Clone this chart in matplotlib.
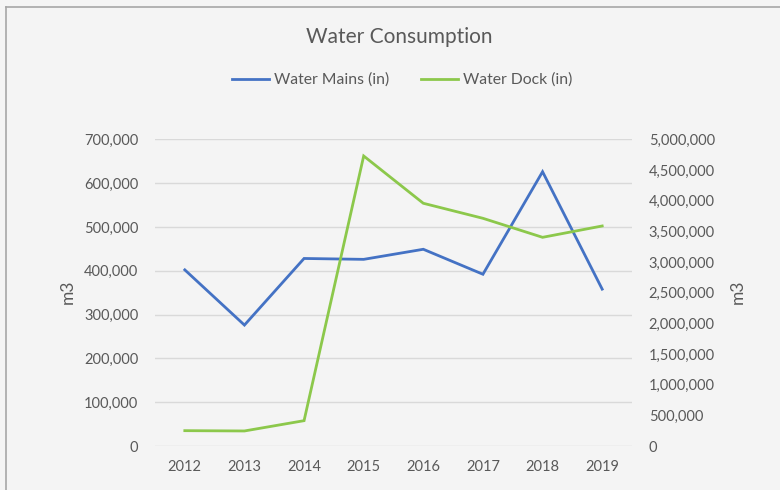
import matplotlib
matplotlib.use("Agg")
import matplotlib.pyplot as plt
from matplotlib.ticker import FuncFormatter, MultipleLocator
from matplotlib.lines import Line2D

years = ["2012", "2013", "2014", "2015", "2016", "2017", "2018", "2019"]
water_mains = [402000, 276000, 428000, 426000, 449000, 392000, 626000, 358000]
water_dock = [250000, 245000, 413000, 4728000, 3957000, 3712000, 3402000, 3587000]

plt.rcParams['font.family'] = ['Lato', 'DejaVu Sans']
bg = "#f4f4f4"
txt = "#595959"
blue = "#4472C4"
green = "#8CC84B"

fig = plt.figure(figsize=(7.8, 4.9), dpi=100, facecolor=bg)
ax = fig.add_axes([155/780, 1-446/490, (632-155)/780, (446-139.3)/490])
ax.set_facecolor(bg)
ax2 = ax.twinx()

x = list(range(len(years)))
ax.plot(x, water_mains, color=blue, lw=2.0, solid_joinstyle='miter')
ax2.plot(x, water_dock, color=green, lw=2.0, solid_joinstyle='miter')

ax.set_xlim(-0.5, len(years) - 0.5)
ax.set_ylim(0, 700000)
ax2.set_ylim(0, 5000000)
ax.yaxis.set_major_locator(MultipleLocator(100000))
ax2.yaxis.set_major_locator(MultipleLocator(500000))
fmt = FuncFormatter(lambda v, p: f"{int(round(v)):,}")
ax.yaxis.set_major_formatter(fmt)
ax2.yaxis.set_major_formatter(fmt)
ax.set_xticks(x)
ax.set_xticklabels(years)

ax.grid(axis='y', color="#d9d9d9", lw=1.0)
ax.set_axisbelow(True)
for a in (ax, ax2):
    for s in a.spines.values():
        s.set_visible(False)
    a.tick_params(length=0, labelsize=10.5, labelcolor=txt)
ax.tick_params(axis='y', pad=12)
ax2.tick_params(axis='y', pad=12)
ax.tick_params(axis='x', pad=10)

fig.text(68/780, 1-292/490, "m3", rotation=90, ha='center', va='center',
         color=txt, fontsize=12.5)
fig.text(738/780, 1-292/490, "m3", rotation=90, ha='center', va='center',
         color=txt, fontsize=12.5)

fig.text(399/780, 1-37/490, "Water Consumption", ha='center', va='center',
         fontsize=15, color=txt)

handles = [Line2D([], [], color=blue, lw=2), Line2D([], [], color=green, lw=2)]
fig.legend(handles, ["Water Mains (in)", "Water Dock (in)"], loc='center',
           bbox_to_anchor=(402/780, 1-80/490), ncol=2, frameon=False,
           fontsize=11.3, labelcolor=txt, handlelength=2.4, handletextpad=0.3,
           columnspacing=2.0)

# outer border
fig.add_artist(Line2D([6/780, 6/780], [0, 1-7/490], transform=fig.transFigure,
                      color="#a6a6a6", lw=1.2))
fig.add_artist(Line2D([6/780, 1], [1-7/490, 1-7/490], transform=fig.transFigure,
                      color="#a6a6a6", lw=1.2))

fig.savefig("out.png", dpi=100, facecolor=bg)
